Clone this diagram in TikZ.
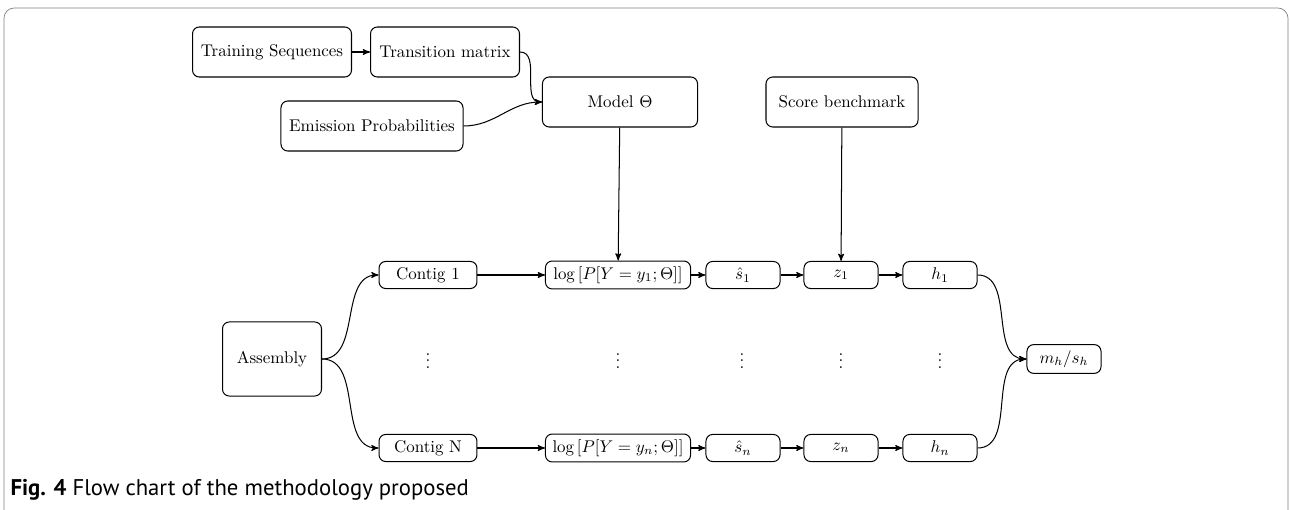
\documentclass[tikz,border=0pt]{standalone}
\usepackage{amsmath}
\usepackage{fontspec}
\newfontfamily\capfont{PT Sans}
\usetikzlibrary{arrows,positioning,shapes}

\begin{document}
\begin{tikzpicture}[x=0.59pt,y=-0.59pt,>=stealth',semithick,
  block/.style={rectangle,draw,rounded corners=4pt,align=center,inner sep=2pt},
  big/.style={block,minimum height=29.5pt},
  small/.style={block,minimum width=43.7pt,minimum height=16pt}]
 \useasboundingbox (0,0) rectangle (1291,510);
 \draw[gray,thin,rounded corners=6pt] (4,540) |- (1288,8) -- (1288,540);

 % model building
 \node[big,minimum width=93.8pt] (train) at (272,52) {Training Sequences};
 \node[big,minimum width=87.9pt] (trans) at (445,52) {Transition matrix};
 \node[big,minimum width=107.4pt] (emis) at (372,126) {Emission Probabilities};
 \node[big,minimum width=91.5pt] (model) at (620,102) {Model $\Theta$};
 \node[big,minimum width=89.7pt] (score) at (842,102) {Score benchmark};

 % contigs
 \node[block,minimum width=58.4pt,minimum height=43.7pt] (asm) at (272,359) {Assembly};
 \node[block,minimum width=57.8pt,minimum height=16pt] (contig1) at (428,275) {Contig 1};
 \node[block,minimum width=57.8pt,minimum height=16pt] (contigN) at (428,448) {Contig N};
 \node[block,minimum width=85.6pt,minimum height=16.5pt] (log1) at (618,275) {$\log\left[P[Y=y_1;\Theta]\right]$};
 \node[block,minimum width=85.6pt,minimum height=16.5pt] (logn) at (618,448) {$\log\left[P[Y=y_n;\Theta]\right]$};
 \node[small] (s1) at (743,275) {$\hat{s}_1$};
 \node[small] (sn) at (743,448) {$\hat{s}_n$};
 \node[small] (z1) at (841,275) {$z_1$};
 \node[small] (zn) at (841,448) {$z_n$};
 \node[small] (h1) at (940,275) {$h_1$};
 \node[small] (hn) at (940,448) {$h_n$};
 \node[small,minimum height=17pt] (mh) at (1064,359) {$m_h/s_h$};

 \node (dotsc) at (428,356) {$\vdots$};
 \node (dotsl) at (618,356) {$\vdots$};
 \node (dotss) at (742,356) {$\vdots$};
 \node (dotsz) at (841,356) {$\vdots$};
 \node (dotsh) at (940,356) {$\vdots$};

 % connections
 \draw[->] (train) -- (trans);
 \draw[->] (trans.east) to[out=0,in=180] (model.west);
 \draw[->] (emis.east) to[out=0,in=180] (model.west);
 \draw[->] (model) -- (log1);
 \draw[->] (score) -- (z1);
 \draw[->] (asm.east) to[out=0,in=180] (contig1.west);
 \draw[->] (asm.east) to[out=0,in=180] (contigN.west);
 \draw[->] (contig1) -- (log1);
 \draw[->] (log1) -- (s1);
 \draw[->] (s1) -- (z1);
 \draw[->] (z1) -- (h1);
 \draw[->] (contigN) -- (logn);
 \draw[->] (logn) -- (sn);
 \draw[->] (sn) -- (zn);
 \draw[->] (zn) -- (hn);
 \draw[->] (h1.east) to[out=0,in=180] (mh.west);
 \draw[->] (hn.east) to[out=0,in=180] (mh.west);

 \node[anchor=base west,inner sep=0pt,font=\capfont\fontsize{13.4}{15}\selectfont] (caption) at (10,496)
   {\textbf{Fig. 4} Flow chart of the methodology proposed};
\end{tikzpicture}
\end{document}
